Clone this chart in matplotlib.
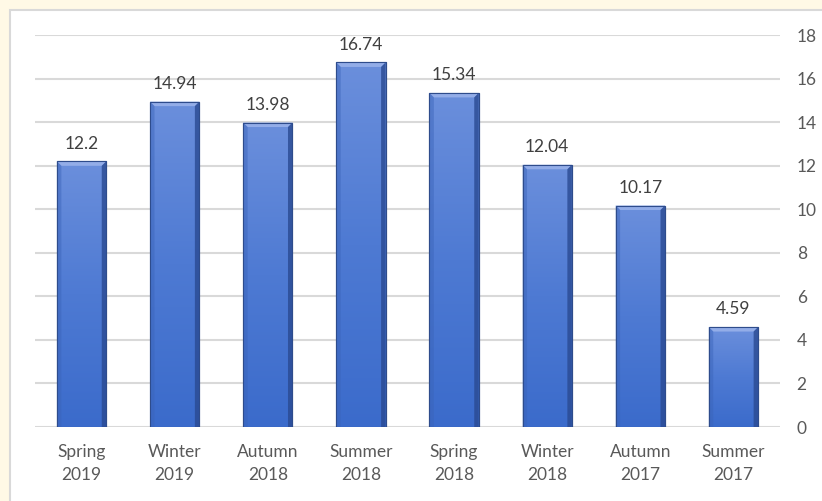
import numpy as np
import matplotlib
matplotlib.use("Agg")
import matplotlib.pyplot as plt
from matplotlib.patches import Rectangle, Polygon
from matplotlib.colors import LinearSegmentedColormap

seasons = ["Spring\n2019", "Winter\n2019", "Autumn\n2018", "Summer\n2018",
           "Spring\n2018", "Winter\n2018", "Autumn\n2017", "Summer\n2017"]
values = [12.2, 14.94, 13.98, 16.74, 15.34, 12.04, 10.17, 4.59]
value_labels = ["12.2", "14.94", "13.98", "16.74", "15.34", "12.04", "10.17", "4.59"]
y_ticks = [0, 2, 4, 6, 8, 10, 12, 14, 16, 18]

plt.rcParams["font.family"] = ["Lato", "DejaVu Sans"]

W, H = 822, 501
fig = plt.figure(figsize=(W / 100, H / 100), dpi=100)
fig.patch.set_facecolor("#FFF9E6")

# white chart panel with thin grey border
fig.add_artist(Rectangle((10 / W, -0.05), 1.0, 1 - 10 / H + 0.05,
                         transform=fig.transFigure, facecolor="white",
                         edgecolor="#D9D9D9", linewidth=1.5, zorder=0))

ax = fig.add_axes([35 / W, 1 - 427 / H, (780 - 35) / W, (427 - 35) / H])
ax.set_facecolor("none")
ax.set_xlim(-0.5, len(values) - 0.5)
ax.set_ylim(0, 18)

for s in ax.spines.values():
    s.set_visible(False)
ax.yaxis.tick_right()
ax.set_yticks(y_ticks)
ax.set_yticklabels([str(t) for t in y_ticks])
ax.grid(axis="y", color="#D9D9D9", linewidth=1.5, zorder=0)
ax.set_axisbelow(True)
ax.tick_params(axis="y", length=0, pad=12, labelsize=12.5, labelcolor="#595959")
ax.set_xticks(range(len(values)))
ax.set_xticklabels(seasons, linespacing=1.6)
ax.tick_params(axis="x", length=0, pad=12, labelsize=12.5, labelcolor="#595959")
for lbl in ax.get_yticklabels():
    lbl.set_horizontalalignment("left")

x = np.arange(len(values))
bar_w = 0.53
bars = ax.bar(x, values, width=bar_w, color="#4F7BD4", edgecolor="#2E4C8C",
              linewidth=0.8, zorder=2)

# vertical gradient fill + bevel edges on each bar
grad = LinearSegmentedColormap.from_list("bar", ["#3B6BCB", "#4E7AD3", "#6B8FDC"])
gimg = np.linspace(0, 1, 256).reshape(-1, 1)
px_x = (len(values)) / (780 - 35)      # data units per pixel, x
px_y = 18 / (427 - 35)                 # data units per pixel, y
bev_x = 4.5 * px_x
bev_y = 4.5 * px_y
for b in bars:
    x0, w, h = b.get_x(), b.get_width(), b.get_height()
    im = ax.imshow(gimg, extent=[x0, x0 + w, 0, h], origin="lower",
                   cmap=grad, aspect="auto", zorder=2.1)
    im.set_clip_path(b)
    x1 = x0 + w
    top = Polygon([[x0, h], [x1, h], [x1 - bev_x, h - bev_y], [x0 + bev_x, h - bev_y]],
                  closed=True, facecolor="#93ADE8", edgecolor="none", zorder=2.2)
    left = Polygon([[x0, 0], [x0, h], [x0 + bev_x, h - bev_y], [x0 + bev_x, 0]],
                   closed=True, facecolor="#3A63B8", edgecolor="none", alpha=0.45, zorder=2.2)
    right = Polygon([[x1, 0], [x1, h], [x1 - bev_x, h - bev_y], [x1 - bev_x, 0]],
                    closed=True, facecolor="#2A4A92", edgecolor="none", alpha=0.8, zorder=2.2)
    for p in (top, left, right):
        ax.add_patch(p)
    ax.add_patch(Rectangle((x0, 0), w, h, facecolor="none", edgecolor="#2E4C8C",
                           linewidth=0.8, zorder=2.3))

for xi, v, t in zip(x, values, value_labels):
    ax.annotate(t, (xi, v), xytext=(0, 7), textcoords="offset points",
                ha="center", va="bottom", fontsize=12.5, color="#404040")

ax.set_xlim(-0.5, len(values) - 0.5)
ax.set_ylim(0, 18)

fig.savefig("out.png", dpi=100, facecolor=fig.get_facecolor())
